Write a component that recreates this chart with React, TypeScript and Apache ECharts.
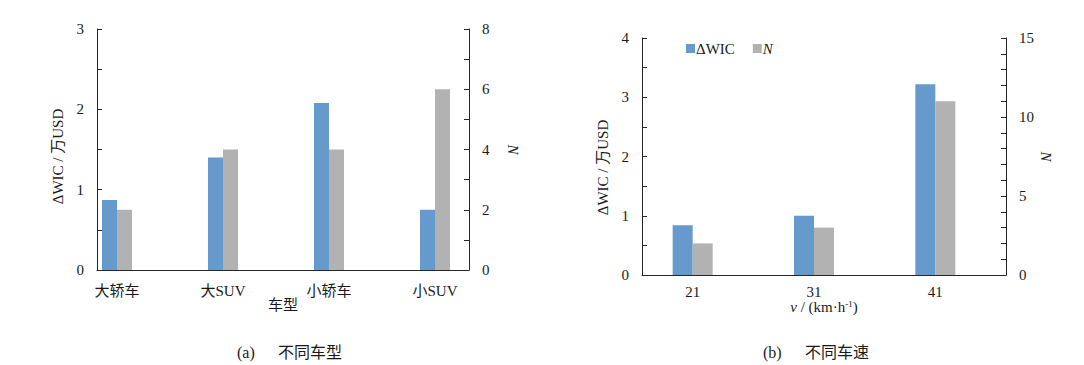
import React, { useEffect, useRef } from "react";
import * as echarts from "echarts";

const typeCats = ["大轿车", "大SUV", "小轿车", "小SUV"];
const typeWIC = [0.87, 1.4, 2.08, 0.75];
const typeN = [2, 4, 4, 6];

const speedCats = ["21", "31", "41"];
const speedWIC = [0.84, 1.0, 3.22];
const speedN = [2, 3, 11];

const FONT = "'Liberation Serif', 'Times New Roman', 'Noto Sans CJK SC', serif";
const TXT = "#1a1a1a";
const LINE = "#262626";
const BLUE = "#6699cc";
const GRAY = "#b2b2b2";

function frameY(gridIndex: number, pos: "left" | "right", max: number, interval: number, labelEvery: number, name: any, extra: any = {}) {
  return {
    type: "value",
    gridIndex,
    position: pos,
    min: 0,
    max,
    interval,
    splitLine: { show: false },
    axisLine: { show: true, lineStyle: { color: LINE, width: 1 } },
    axisTick: { show: true, inside: true, length: 5, lineStyle: { color: LINE } },
    axisLabel: {
      margin: 13,
      color: TXT,
      fontFamily: FONT,
      fontSize: 15,
      formatter: (v: number) => (Math.abs(v / labelEvery - Math.round(v / labelEvery)) < 1e-6 ? String(v) : ""),
    },
    name,
    nameLocation: "middle",
    ...extra,
  };
}

function hiddenY(gridIndex: number, max: number) {
  return { type: "value", gridIndex, min: 0, max, show: false, splitLine: { show: false } };
}

export default function App() {
  const ref = useRef<HTMLDivElement>(null);
  useEffect(() => {
    if (!ref.current) return;
    const chart = echarts.init(ref.current, null, { renderer: "svg" });
    const option: any = {
      animation: false,
      backgroundColor: "#fff",
      textStyle: { fontFamily: FONT },
      grid: [
        { left: 97, top: 29, width: 372, height: 241 },
        { left: 64, top: 29, width: 424, height: 241 },
        { left: 642, top: 38, width: 364, height: 237 },
        { left: 632, top: 38, width: 364, height: 237 },
      ],
      legend: {
        data: ["ΔWIC", "N"],
        left: 681,
        top: 36,
        itemWidth: 9,
        itemHeight: 9,
        itemGap: 18,
        icon: "rect",
        textStyle: {
          color: TXT,
          fontFamily: FONT,
          fontSize: 15,
          padding: [0, 0, 0, -4],
          rich: { it: { fontStyle: "italic", fontFamily: FONT, fontSize: 15, color: TXT } },
        },
        formatter: (n: string) => (n === "N" ? "{it|N}" : n),
      },
      xAxis: [
        {
          type: "category",
          gridIndex: 0,
          data: typeCats,
          axisLine: { show: true, lineStyle: { color: LINE } },
          axisTick: { show: false },
          axisLabel: { show: false },
          name: "车型",
          nameLocation: "middle",
          nameGap: 27,
          nameTextStyle: { color: TXT, fontFamily: FONT, fontSize: 15 },
        },
        {
          type: "category",
          gridIndex: 1,
          data: typeCats,
          axisLine: { show: false },
          axisTick: { show: false },
          axisLabel: { margin: 13, color: TXT, fontFamily: FONT, fontSize: 15 },
        },
        {
          type: "category",
          gridIndex: 2,
          data: speedCats,
          axisLine: { show: true, lineStyle: { color: LINE } },
          axisTick: { show: false },
          axisLabel: { show: false },
          name: "{it|v} / (km·h{sup|-1})",
          nameLocation: "middle",
          nameGap: 24,
          nameTextStyle: {
            color: TXT,
            fontFamily: FONT,
            fontSize: 15,
            rich: {
              it: { fontStyle: "italic", fontFamily: FONT, fontSize: 15, color: TXT },
              sup: { fontFamily: FONT, fontSize: 9, color: TXT, verticalAlign: "top", padding: [0, 0, 6, 0] },
            },
          },
        },
        {
          type: "category",
          gridIndex: 3,
          data: speedCats,
          axisLine: { show: false },
          axisTick: { show: false },
          axisLabel: { margin: 9, color: TXT, fontFamily: FONT, fontSize: 15 },
        },
      ],
      yAxis: [
        frameY(0, "left", 3, 0.5, 1, "ΔWIC / 万USD", {
          nameGap: 32,
          nameTextStyle: { color: TXT, fontFamily: FONT, fontSize: 15, padding: [0, 14, 0, 0] },
        }),
        frameY(0, "right", 8, 1, 2, "N", {
          nameGap: 36,
          nameRotate: -90,
          nameTextStyle: { color: TXT, fontFamily: FONT, fontSize: 15, fontStyle: "italic" },
        }),
        hiddenY(1, 3),
        hiddenY(1, 8),
        frameY(2, "left", 4, 0.5, 1, "ΔWIC / 万USD", {
          nameGap: 32,
          nameTextStyle: { color: TXT, fontFamily: FONT, fontSize: 15, padding: [0, 22, 0, 0] },
        }),
        frameY(2, "right", 15, 1, 5, "N", {
          nameGap: 32,
          nameRotate: -90,
          nameTextStyle: { color: TXT, fontFamily: FONT, fontSize: 15, fontStyle: "italic" },
        }),
        hiddenY(3, 4),
        hiddenY(3, 15),
      ],
      series: [
        { name: "ΔWIC(a)", type: "bar", xAxisIndex: 1, yAxisIndex: 2, data: typeWIC, barWidth: 15, barGap: "0%", itemStyle: { color: BLUE } },
        { name: "N(a)", type: "bar", xAxisIndex: 1, yAxisIndex: 3, data: typeN, barWidth: 15, barGap: "0%", itemStyle: { color: GRAY } },
        { name: "ΔWIC", type: "bar", xAxisIndex: 3, yAxisIndex: 6, data: speedWIC, barWidth: 20, barGap: "0%", itemStyle: { color: BLUE } },
        { name: "N", type: "bar", xAxisIndex: 3, yAxisIndex: 7, data: speedN, barWidth: 20, barGap: "0%", itemStyle: { color: GRAY } },
      ],
      graphic: [
        { type: "text", left: 237, top: 344, style: { text: "(a)", font: `16px ${FONT}`, fill: TXT } },
        { type: "text", left: 278, top: 344, style: { text: "不同车型", font: `16px ${FONT}`, fill: TXT } },
        { type: "text", left: 763, top: 344, style: { text: "(b)", font: `16px ${FONT}`, fill: TXT } },
        { type: "text", left: 805, top: 344, style: { text: "不同车速", font: `16px ${FONT}`, fill: TXT } },
      ],
    };
    chart.setOption(option);
    return () => chart.dispose();
  }, []);
  return <div ref={ref} style={{ position: "fixed", left: 0, top: 0, width: 1084, height: 365 }} />;
}
